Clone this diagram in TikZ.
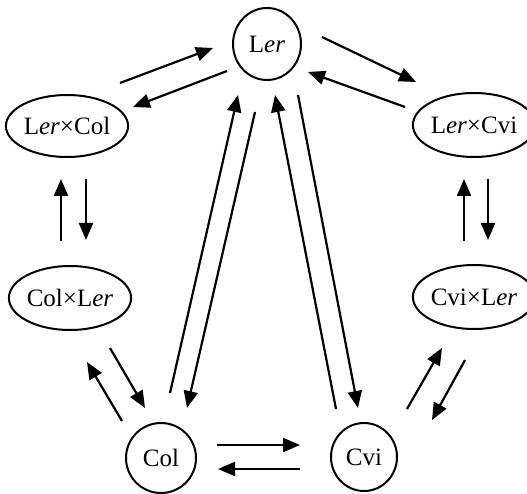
\documentclass[tikz,border=0pt]{standalone}
\usepackage{fontspec}
\setmainfont{Liberation Serif}
\usetikzlibrary{shapes.geometric,arrows.meta}
\begin{document}
\begin{tikzpicture}[x=1pt,y=-1pt,
  state/.style={draw, ellipse, line width=2pt, inner sep=0pt,
    font=\fontsize{25}{29}\selectfont},
  arr/.style={line width=2.2pt, -{Triangle[length=17pt,width=14pt]}}]
\useasboundingbox (0,0) rectangle (527,494);
% nodes
\node[state, minimum width=68pt, minimum height=72pt] (ler) at (267,44) {L\textit{er}};
\node[state, minimum width=110pt, minimum height=62pt] (lc) at (67,126) {L\textit{er}×Col};
\node[state, minimum width=104pt, minimum height=64pt] (lv) at (474,125) {L\textit{er}×Cvi};
\node[state, minimum width=114pt, minimum height=64pt] (cl) at (70,298) {Col×L\textit{er}};
\node[state, minimum width=104pt, minimum height=64pt] (vl) at (474,297) {Cvi×L\textit{er}};
\node[state, minimum width=70pt, minimum height=70pt] (col) at (161,458) {Col};
\node[state, minimum width=66pt, minimum height=68pt] (cvi) at (364,457) {Cvi};
% arrow end points
\coordinate (a1s) at (120,83);  \coordinate (a1e) at (213,48);
\coordinate (a2s) at (227,71);  \coordinate (a2e) at (133,107);
\coordinate (a3s) at (322,37);  \coordinate (a3e) at (416,82);
\coordinate (a4s) at (405,107); \coordinate (a4e) at (308,72);
\coordinate (a5s) at (61,241);  \coordinate (a5e) at (61,179);
\coordinate (a6s) at (86,179);  \coordinate (a6e) at (86,240);
\coordinate (a7s) at (464,241); \coordinate (a7e) at (464,179);
\coordinate (a8s) at (488,179); \coordinate (a8e) at (488,240);
\coordinate (a9s) at (170,393); \coordinate (a9e) at (238,95);
\coordinate (a10s) at (255,112); \coordinate (a10e) at (187,408);
\coordinate (a11s) at (336,409); \coordinate (a11e) at (275,95);
\coordinate (a12s) at (298,95);  \coordinate (a12e) at (358,408);
\coordinate (a13s) at (110,348); \coordinate (a13e) at (145,408);
\coordinate (a14s) at (122,421); \coordinate (a14e) at (87,362);
\coordinate (a15s) at (407,409); \coordinate (a15e) at (442,348);
\coordinate (a16s) at (465,360); \coordinate (a16e) at (432,420);
\coordinate (a17s) at (217,445); \coordinate (a17e) at (300,445);
\coordinate (a18s) at (300,469); \coordinate (a18e) at (218,469);
% arrows
\foreach \i in {1,...,18} {\draw[arr] (a\i s) -- (a\i e);}
\end{tikzpicture}
\end{document}
